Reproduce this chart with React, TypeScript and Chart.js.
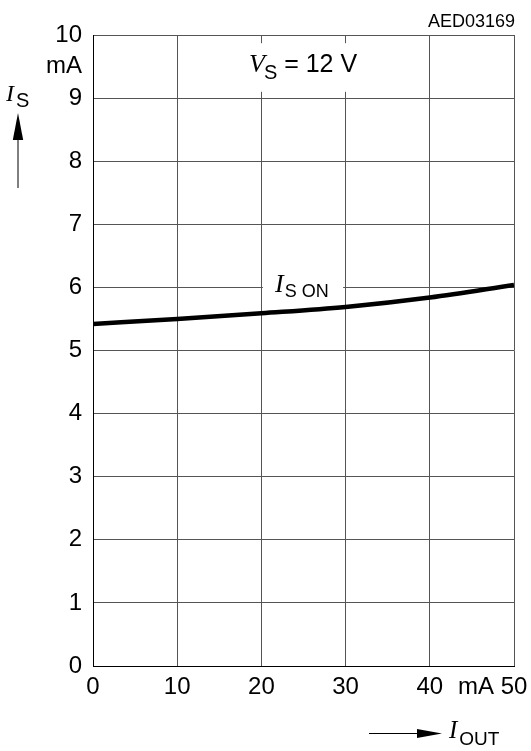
import React, { useEffect, useRef } from "react";
import { Chart, registerables } from "chart.js";

Chart.register(...registerables);

// ---- data ----
const iOut: number[] = [0, 10, 20, 30, 40, 50];
const iSOn: number[] = [5.42, 5.5, 5.59, 5.69, 5.84, 6.04];

const xTickValues: number[] = [0, 10, 20, 30, 40, 45.5, 50];
const xTickLabels: string[] = ["0", "10", "20", "30", "40", "mA", "50"];
const yTickValues: number[] = [0, 1, 2, 3, 4, 5, 6, 7, 8, 9, 9.5, 10];
const yTickLabels: string[] = ["0", "1", "2", "3", "4", "5", "6", "7", "8", "9", "mA", "10"];

const SANS = "'Liberation Sans', Arial, sans-serif";
const SERIF = "'Liberation Serif', 'Times New Roman', serif";

type Seg = { t: string; font: string; dx?: number; dy?: number };

function drawSegs(ctx: CanvasRenderingContext2D, x: number, y: number, segs: Seg[]) {
  let cx = x;
  ctx.textAlign = "left";
  ctx.textBaseline = "alphabetic";
  ctx.fillStyle = "#000";
  for (const s of segs) {
    ctx.font = s.font;
    cx += s.dx || 0;
    ctx.fillText(s.t, cx, y + (s.dy || 0));
    cx += ctx.measureText(s.t).width;
  }
}

const decor = {
  id: "decor",
  beforeDatasetsDraw(chart: any) {
    const ctx: CanvasRenderingContext2D = chart.ctx;
    const x = chart.scales.x;
    const y = chart.scales.y;
    ctx.save();
    ctx.fillStyle = "#fff";
    // box behind V_S label
    ctx.fillRect(x.getPixelForValue(17.5), y.getPixelForValue(9.87), x.getPixelForValue(32.5) - x.getPixelForValue(17.5), y.getPixelForValue(9.1) - y.getPixelForValue(9.87));
    // box behind I_S ON label
    ctx.fillRect(x.getPixelForValue(20) + 1.5, y.getPixelForValue(6.3), x.getPixelForValue(30) - x.getPixelForValue(20) - 4, y.getPixelForValue(5.82) - y.getPixelForValue(6.3));
    ctx.restore();
  },
  afterDraw(chart: any) {
    const ctx: CanvasRenderingContext2D = chart.ctx;
    ctx.save();
    // V_S = 12 V
    drawSegs(ctx, 249, 71.7, [
      { t: "V", font: `italic 26px ${SERIF}` },
      { t: "S", font: `20px ${SANS}`, dx: -1, dy: 7.6 },
      { t: " = 12 V", font: `25px ${SANS}`, dx: 0 },
    ]);
    // I_S ON
    drawSegs(ctx, 275, 291.7, [
      { t: "I", font: `italic 26px ${SERIF}` },
      { t: "S ON", font: `18px ${SANS}`, dx: 1, dy: 5 },
    ]);
    // axis title I_S
    drawSegs(ctx, 6, 100.5, [
      { t: "I", font: `italic 24px ${SERIF}` },
      { t: "S", font: `20px ${SANS}`, dx: 2, dy: 6.5 },
    ]);
    // axis title I_OUT
    drawSegs(ctx, 449, 738, [
      { t: "I", font: `italic 25px ${SERIF}` },
      { t: "OUT", font: `19px ${SANS}`, dx: 2, dy: 7 },
    ]);
    // id
    ctx.font = `18px ${SANS}`;
    ctx.textAlign = "right";
    ctx.textBaseline = "alphabetic";
    ctx.fillText("AED03169", 515, 26.5);

    // arrows
    ctx.strokeStyle = "#000";
    ctx.fillStyle = "#000";
    ctx.lineWidth = 1;
    ctx.beginPath();
    ctx.moveTo(18, 188);
    ctx.lineTo(18, 135);
    ctx.stroke();
    ctx.beginPath();
    ctx.moveTo(18, 113);
    ctx.lineTo(12.8, 140);
    ctx.lineTo(23.2, 140);
    ctx.closePath();
    ctx.fill();

    ctx.beginPath();
    ctx.moveTo(369, 733.5);
    ctx.lineTo(422, 733.5);
    ctx.stroke();
    ctx.beginPath();
    ctx.moveTo(442, 733.5);
    ctx.lineTo(417, 729);
    ctx.lineTo(417, 738);
    ctx.closePath();
    ctx.fill();
    ctx.restore();
  },
};

export default function App() {
  const ref = useRef<HTMLCanvasElement>(null);
  useEffect(() => {
    if (!ref.current) return;
    const gridColor = (hide: number) => (c: any) =>
      c.tick && c.tick.value === hide ? "rgba(0,0,0,0)" : "#555";
    const chart = new Chart(ref.current, {
      type: "line",
      data: {
        datasets: [
          {
            data: iOut.map((v, i) => ({ x: v, y: iSOn[i] })),
            borderColor: "#000",
            borderWidth: 4.5,
            pointRadius: 0,
            cubicInterpolationMode: "monotone",
            fill: false,
          },
        ],
      },
      options: {
        responsive: false,
        animation: false,
        events: [],
        layout: { padding: { left: 0, top: 35, right: 17, bottom: 0 } },
        plugins: { legend: { display: false }, tooltip: { enabled: false }, title: { display: false } },
        scales: {
          x: {
            type: "linear",
            min: 0,
            max: 50,
            afterBuildTicks: (s: any) => {
              s.ticks = xTickValues.map((v) => ({ value: v }));
            },
            afterFit: (s: any) => {
              s.height = 85;
              s.paddingLeft = 0;
              s.paddingRight = 0;
            },
            ticks: {
              autoSkip: false,
              maxRotation: 0,
              padding: 7,
              color: "#000",
              font: { family: SANS, size: 24 },
              callback: (v: any) => {
                const i = xTickValues.indexOf(Number(v));
                return i >= 0 ? xTickLabels[i] : "";
              },
            },
            grid: { color: gridColor(45.5), lineWidth: 1, drawTicks: false },
            border: { display: true, color: "#000", width: 1 },
          },
          y: {
            type: "linear",
            min: 0,
            max: 10,
            afterBuildTicks: (s: any) => {
              s.ticks = yTickValues.map((v) => ({ value: v }));
            },
            afterFit: (s: any) => {
              s.width = 93;
              s.paddingTop = 0;
              s.paddingBottom = 0;
            },
            ticks: {
              autoSkip: false,
              padding: 11,
              color: "#000",
              font: { family: SANS, size: 24 },
              callback: (v: any) => {
                const i = yTickValues.indexOf(Number(v));
                return i >= 0 ? yTickLabels[i] : "";
              },
            },
            grid: { color: gridColor(9.5), lineWidth: 1, drawTicks: false },
            border: { display: true, color: "#000", width: 1 },
          },
        },
      } as any,
      plugins: [decor],
    });
    return () => chart.destroy();
  }, []);
  return (
    <div style={{ position: "fixed", left: 0, top: 0, width: 531, height: 751, background: "#fff" }}>
      <canvas ref={ref} width={531} height={751} style={{ display: "block" }} />
    </div>
  );
}
